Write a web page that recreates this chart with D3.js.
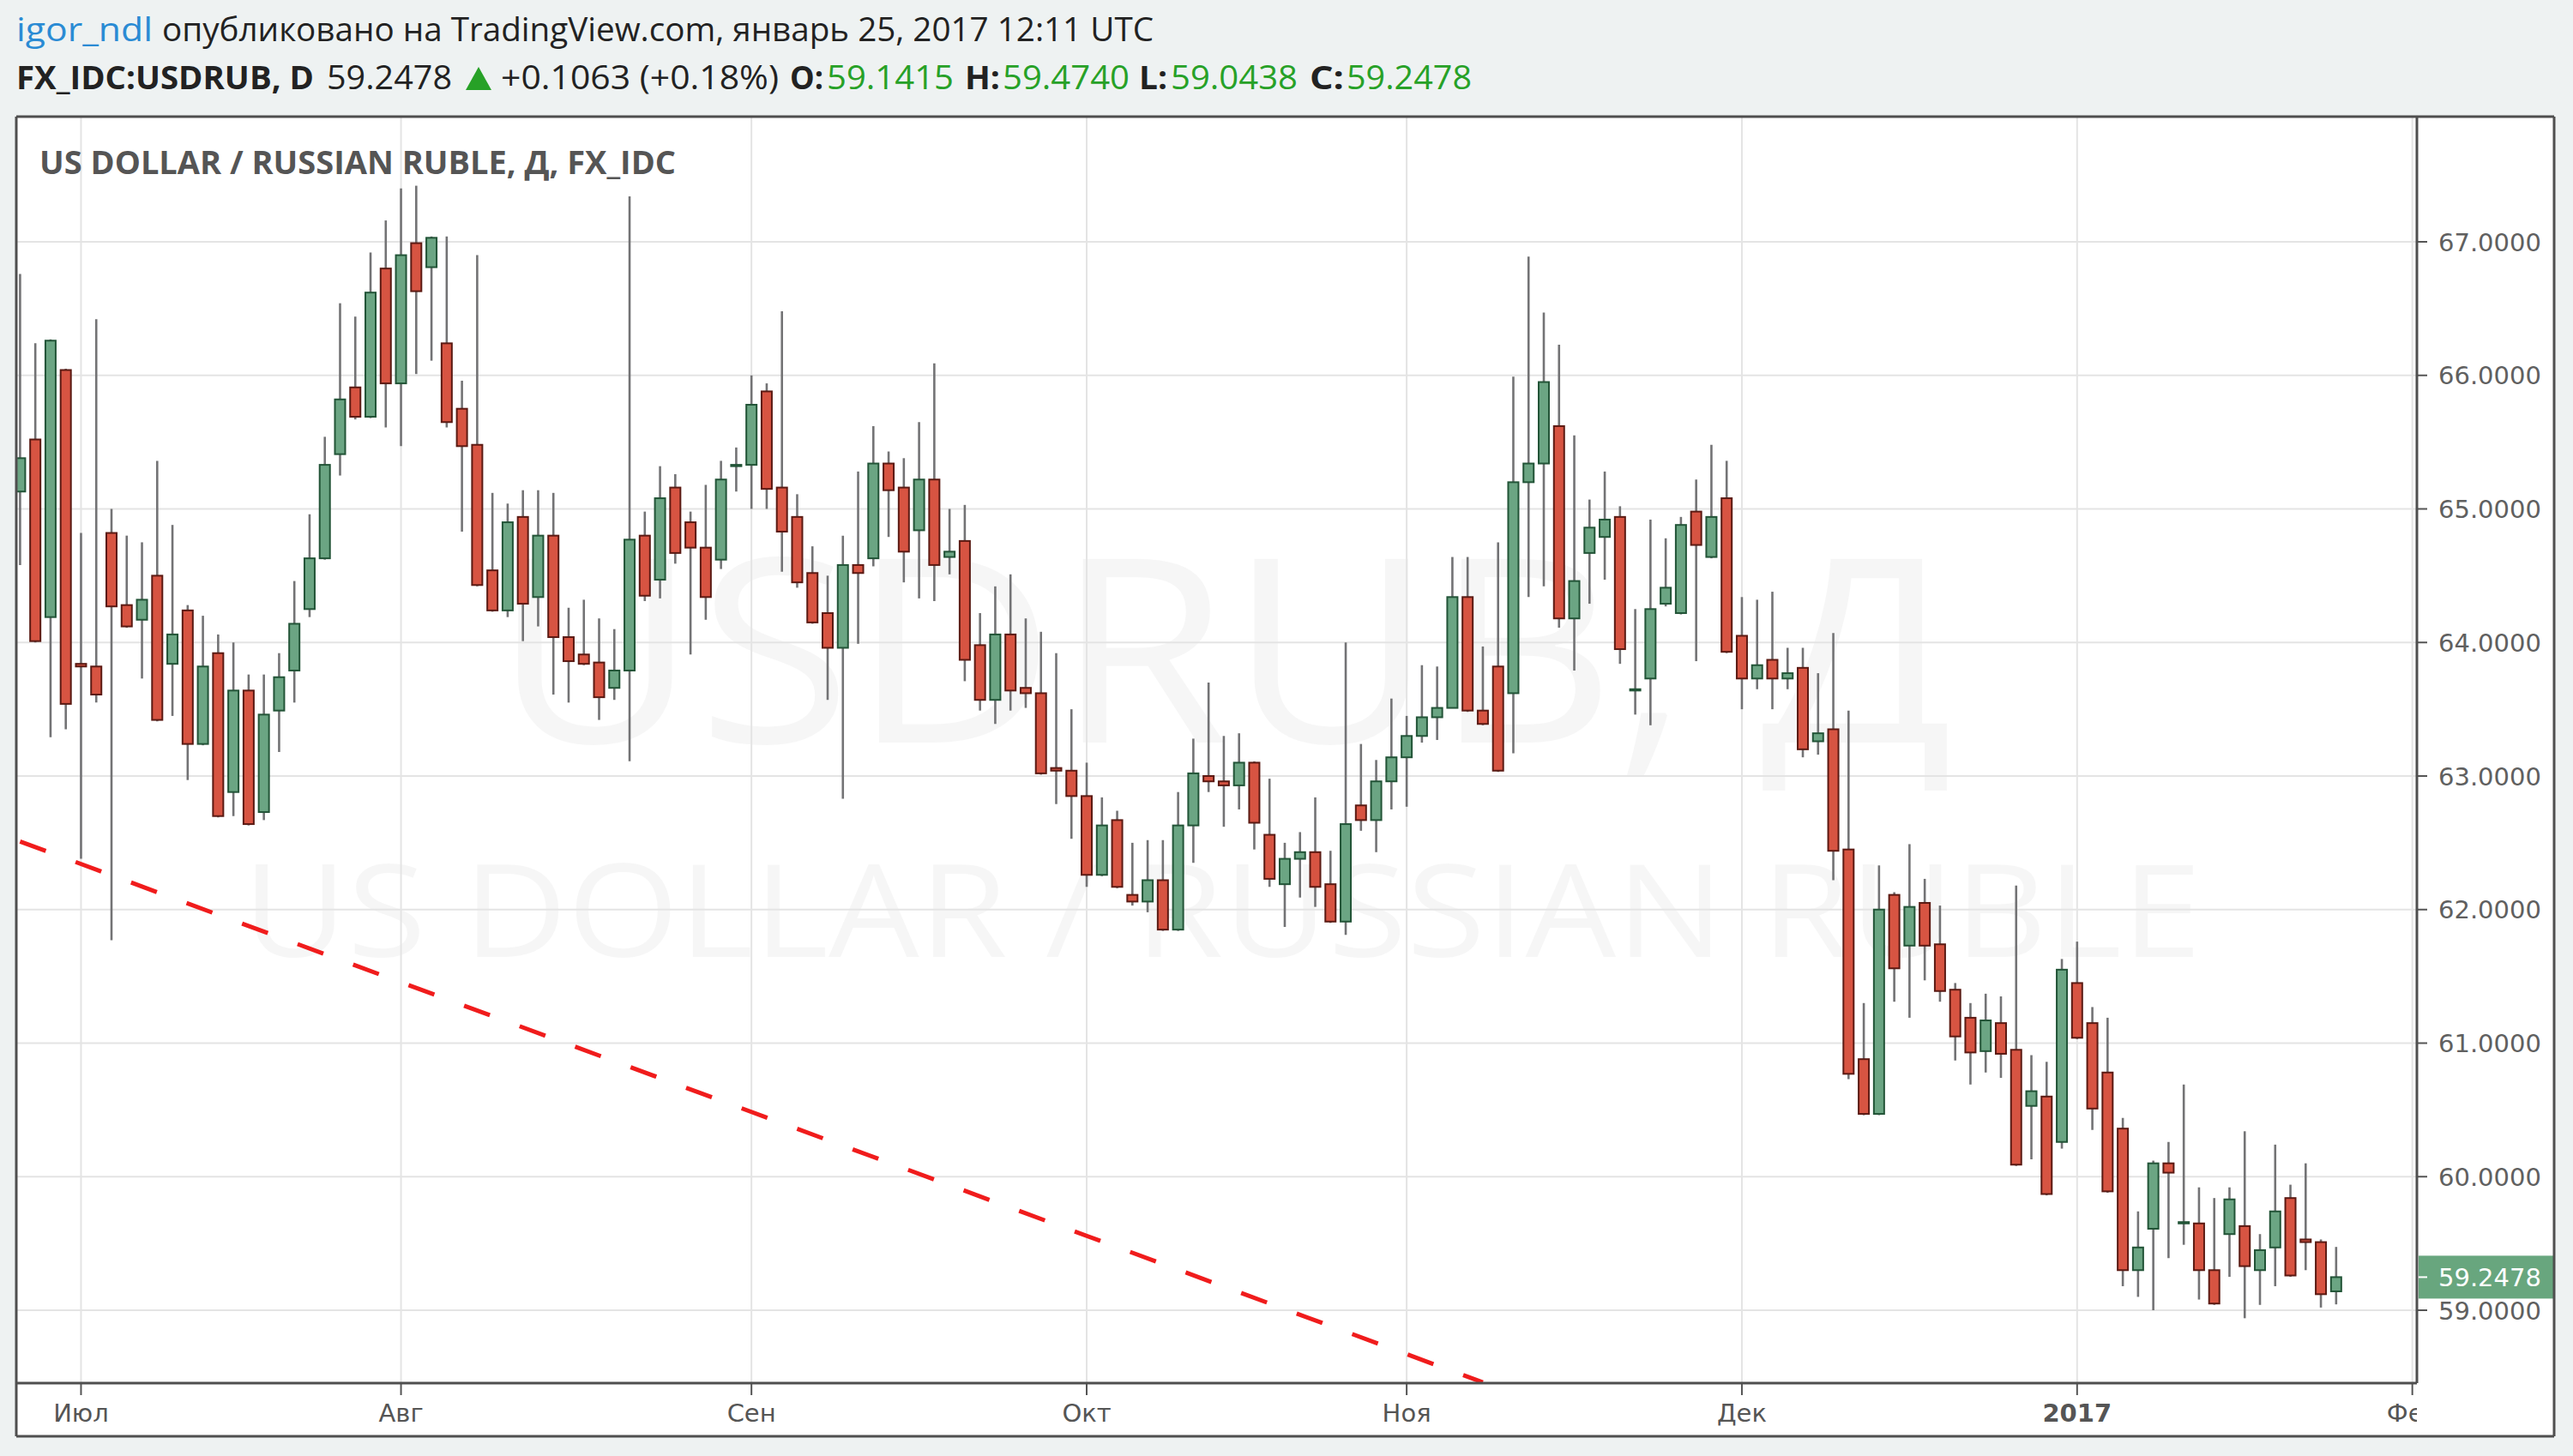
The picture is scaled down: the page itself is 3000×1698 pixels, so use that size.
<!DOCTYPE html>
<html lang="ru">
<head>
<meta charset="utf-8">
<title>USDRUB, D</title>
<script src="https://cdn.jsdelivr.net/npm/d3@7"></script>
<style>
  html, body { margin: 0; padding: 0; background: #eef2f2; }
  svg { display: block; }
</style>
</head>
<body>
<svg id="chart"></svg>
<script>
// Daily USD/RUB bars, Jun 27 2016 .. Jan 25 2017, one value per trading day
const opens = [
  65.13, 65.52, 64.19, 66.04,                                                   // Jun
  63.84, 63.82, 64.82, 64.28, 64.17, 64.50, 63.84, 64.24, 63.24, 63.92,        // Jul
  62.88, 63.64, 62.73, 63.49, 63.79, 64.25, 64.63, 65.41, 65.91, 65.69, 66.80,
  65.94, 66.99, 66.81, 66.24, 65.75, 65.48, 64.54, 64.24, 64.94, 64.34, 64.80, // Aug
  64.04, 63.91, 63.85, 63.66, 63.79, 64.80, 64.47, 65.16, 64.90, 64.71, 64.62, 65.32,
  65.33, 65.88, 65.16, 64.94, 64.52, 64.22, 63.96, 64.58, 64.63, 65.34, 65.16, // Sep
  64.84, 65.22, 64.64, 64.76, 63.98, 63.57, 64.06, 63.66, 63.62, 63.06, 63.04,
  62.85, 62.26, 62.67, 62.11, 62.06, 62.22, 61.85, 62.63, 63.00, 62.96, 62.93, // Oct
  63.10, 62.56, 62.19, 62.38, 62.43, 62.19, 61.91, 62.78, 62.67, 62.96,
  63.14, 63.30, 63.44, 63.51, 64.34, 63.49, 63.82, 63.62, 65.20, 65.34, 65.62, // Nov
  64.18, 64.67, 64.79, 64.94, 63.64, 63.73, 64.29, 64.22, 64.98, 64.64, 65.08,
  64.05, 63.73, 63.87, 63.73, 63.81, 63.26, 63.35, 62.45, 60.88, 60.47, 62.11, // Dec
  61.73, 62.05, 61.74, 61.40, 61.19, 60.94, 61.15, 60.95, 60.53, 60.60, 60.26,
  61.45, 61.15, 60.78, 60.36, 59.30, 59.61, 60.10, 59.65, 59.65, 59.30, 59.57, // Jan
  59.63, 59.30, 59.47, 59.84, 59.53, 59.51, 59.1415
];
const highs = [
  66.76, 66.24, 66.27, 66.05,
  64.82, 66.42, 65.00, 64.80, 64.75, 65.36, 64.88, 64.28, 64.20, 64.06,
  64.00, 63.76, 63.76, 63.92, 64.46, 64.96, 65.54, 66.54, 66.44, 66.92, 67.16,
  67.40, 67.42, 67.04, 67.04, 65.96, 66.90, 65.12, 65.04, 65.14, 65.14, 65.12,
  64.26, 64.32, 64.18, 64.10, 67.34, 64.98, 65.32, 65.26, 64.98, 65.18, 65.36, 65.46,
  66.00, 65.94, 66.48, 65.11, 64.72, 64.50, 64.80, 65.28, 65.62, 65.43, 65.38,
  65.65, 66.09, 65.00, 65.03, 64.22, 64.42, 64.51, 64.18, 64.08, 63.92, 63.50,
  63.10, 62.84, 62.74, 62.50, 62.52, 62.52, 62.88, 63.28, 63.70, 63.30, 63.32,
  63.11, 62.98, 62.50, 62.58, 62.84, 62.44, 64.00, 63.24, 63.12, 63.58,
  63.45, 63.83, 63.82, 64.64, 64.64, 63.97, 64.75, 65.99, 66.89, 66.47, 66.23,
  65.55, 65.07, 65.28, 65.02, 64.25, 64.92, 64.78, 64.94, 65.22, 65.48, 65.36,
  64.34, 64.32, 64.38, 63.96, 63.96, 63.77, 64.07, 63.49, 61.30, 62.33, 62.13,
  62.49, 62.23, 62.03, 61.45, 61.30, 61.37, 61.35, 62.18, 60.91, 60.86, 61.63,
  61.76, 61.27, 61.19, 60.44, 59.74, 60.12, 60.26, 60.69, 59.92, 59.84, 59.92,
  60.34, 59.57, 60.24, 59.94, 60.10, 59.53, 59.4740
];
const lows = [
  64.58, 64.00, 63.29, 63.35,
  62.38, 63.55, 61.77, 64.11, 63.73, 63.41, 63.45, 62.97, 63.23, 62.69,
  62.70, 62.63, 62.67, 63.18, 63.55, 64.19, 64.62, 65.25, 65.67, 65.68, 65.61,
  65.47, 66.01, 66.11, 65.61, 64.83, 64.42, 64.23, 64.19, 64.01, 64.12, 63.61,
  63.55, 63.83, 63.42, 63.57, 63.11, 64.31, 64.33, 64.59, 63.91, 64.17, 64.55, 65.13,
  65.00, 65.00, 64.53, 64.41, 64.14, 63.57, 62.83, 63.99, 64.57, 64.79, 64.45,
  64.33, 64.31, 64.51, 63.71, 63.49, 63.39, 63.49, 63.51, 63.01, 62.79, 62.53,
  62.17, 62.25, 62.16, 62.03, 61.98, 61.84, 61.84, 62.35, 62.88, 62.62, 62.75,
  62.45, 62.17, 61.87, 62.09, 62.02, 61.90, 61.81, 62.59, 62.43, 62.75,
  62.77, 63.25, 63.27, 63.51, 63.48, 63.38, 63.03, 63.17, 64.34, 64.42, 64.11,
  63.79, 64.29, 64.47, 63.84, 63.46, 63.38, 64.27, 64.21, 63.86, 64.63, 63.92,
  63.50, 63.65, 63.50, 63.65, 63.14, 63.16, 62.22, 60.73, 60.46, 60.46, 61.31,
  61.19, 61.47, 61.31, 60.87, 60.69, 60.78, 60.74, 60.08, 60.13, 59.86, 60.21,
  61.03, 60.35, 59.88, 59.18, 59.10, 59.00, 59.39, 59.49, 59.08, 59.04, 59.25,
  58.94, 59.04, 59.18, 59.25, 59.30, 59.02, 59.0438
];
const closes = [
  65.38, 64.01, 66.26, 63.54,
  63.82, 63.61, 64.27, 64.12, 64.32, 63.42, 64.06, 63.24, 63.82, 62.70,
  63.64, 62.64, 63.46, 63.74, 64.14, 64.63, 65.33, 65.82, 65.69, 66.62, 65.94,
  66.90, 66.63, 67.03, 65.65, 65.47, 64.43, 64.24, 64.90, 64.29, 64.80, 64.04,
  63.86, 63.84, 63.59, 63.79, 64.77, 64.35, 65.08, 64.67, 64.71, 64.34, 65.22, 65.33,
  65.78, 65.15, 64.83, 64.45, 64.15, 63.96, 64.58, 64.52, 65.34, 65.14, 64.68,
  65.22, 64.58, 64.68, 63.87, 63.57, 64.06, 63.64, 63.62, 63.02, 63.04, 62.85,
  62.26, 62.63, 62.17, 62.06, 62.22, 61.85, 62.63, 63.02, 62.96, 62.93, 63.10,
  62.65, 62.23, 62.38, 62.43, 62.17, 61.91, 62.64, 62.67, 62.96, 63.14,
  63.30, 63.44, 63.51, 64.34, 63.49, 63.39, 63.04, 65.20, 65.34, 65.95, 64.18,
  64.46, 64.86, 64.92, 63.95, 63.65, 64.25, 64.41, 64.88, 64.73, 64.94, 63.93,
  63.73, 63.83, 63.73, 63.77, 63.20, 63.32, 62.44, 60.77, 60.47, 62.00, 61.56,
  62.02, 61.73, 61.39, 61.05, 60.93, 61.17, 60.92, 60.09, 60.64, 59.87, 61.55,
  61.04, 60.51, 59.89, 59.30, 59.47, 60.10, 60.03, 59.66, 59.30, 59.05, 59.83,
  59.33, 59.45, 59.74, 59.26, 59.51, 59.12, 59.2478
];

const priceTicks = [59, 60, 61, 62, 63, 64, 65, 66, 67];
const monthLabels = ['Июл', 'Авг', 'Сен', 'Окт', 'Ноя', 'Дек', '2017', 'Фев'];
const lastChange = 0.1063;
const lastChangePct = 0.18;
// user-drawn dashed trend line (date, price)
const trendDates = ['2016-06-27', '2016-11-08'];
const trendPrices = [62.51, 58.46];

// Layout
const W = 3000, H = 1698;
const plot = { left: 19, right: 2818, top: 136, bottom: 1613 };
const frame = { left: 19, right: 2978, top: 136, bottom: 1675 };
const upFill = '#6ba583', upLine = '#225437';
const downFill = '#d75442', downLine = '#5b1a13';
const wickColor = '#737375';

// trading days incl. a few future ones so the "Фев" tick exists
const days = d3.timeDay.range(new Date(2016, 5, 27), new Date(2017, 1, 4))
  .filter(d => d.getDay() % 6 !== 0);
const fmtDay = d3.timeFormat('%Y-%m-%d');
const dayIndex = new Map(days.map((d, i) => [fmtDay(d), i]));

const bars = opens.map((o, i) => ({
  k: i, open: o, high: highs[i], low: lows[i], close: closes[i]
}));

// Scales
const step = 17.766;
const x = d3.scaleLinear().domain([0, 157]).range([23.4, 23.4 + 157 * step]);
const y = d3.scaleLinear().domain([59, 67]).range([1528, 282]);

const svg = d3.select('#chart').attr('width', W).attr('height', H);

svg.append('rect').attr('width', W).attr('height', H).attr('fill', '#eef2f2');
svg.append('rect')
  .attr('x', frame.left).attr('y', frame.top)
  .attr('width', frame.right - frame.left).attr('height', frame.bottom - frame.top)
  .attr('fill', '#ffffff');

const defs = svg.append('defs');
defs.append('clipPath').attr('id', 'plotClip')
  .append('rect')
  .attr('x', plot.left).attr('y', plot.top)
  .attr('width', plot.right - plot.left).attr('height', plot.bottom - plot.top);
defs.append('clipPath').attr('id', 'timeClip')
  .append('rect')
  .attr('x', plot.left).attr('y', plot.bottom)
  .attr('width', plot.right - plot.left).attr('height', frame.bottom - plot.bottom);

const pane = svg.append('g').attr('clip-path', 'url(#plotClip)');

// Watermark
const wm = pane.append('g')
  .attr('fill', '#000').attr('fill-opacity', 0.035)
  .attr('font-family', '"Open Sans", sans-serif').attr('text-anchor', 'middle');
wm.append('text')
  .attr('x', 1426).attr('y', 866)
  .attr('font-size', 300)
  .attr('textLength', 1703).attr('lengthAdjust', 'spacingAndGlyphs')
  .text('USDRUB, Д');
wm.append('text')
  .attr('x', 1425).attr('y', 1116)
  .attr('font-size', 150)
  .attr('textLength', 2284).attr('lengthAdjust', 'spacingAndGlyphs')
  .text('US DOLLAR / RUSSIAN RUBLE');

// Month ticks = first trading day of each month
const monthTicks = days.map((d, i) => i)
  .filter(i => i > 0 && days[i].getMonth() !== days[i - 1].getMonth());

// Grid
const grid = pane.append('g').attr('stroke', '#e4e4e4').attr('stroke-width', 2);
grid.selectAll('.hg').data(priceTicks).enter().append('line')
  .attr('x1', plot.left).attr('x2', plot.right)
  .attr('y1', d => y(d)).attr('y2', d => y(d));
grid.selectAll('.vg').data(monthTicks).enter().append('line')
  .attr('x1', d => x(d)).attr('x2', d => x(d))
  .attr('y1', plot.top).attr('y2', plot.bottom);

// Candles
const isUp = d => d.close >= d.open;
pane.append('g').selectAll('line').data(bars).enter().append('line')
  .attr('x1', d => x(d.k)).attr('x2', d => x(d.k))
  .attr('y1', d => y(d.high)).attr('y2', d => y(d.low))
  .attr('stroke', wickColor).attr('stroke-width', 2.6);

const bodyW = 12;
pane.append('g').selectAll('rect').data(bars).enter().append('rect')
  .attr('x', d => x(d.k) - bodyW / 2)
  .attr('y', d => y(Math.max(d.open, d.close)))
  .attr('width', bodyW)
  .attr('height', d => Math.max(1, Math.abs(y(d.open) - y(d.close))))
  .attr('fill', d => isUp(d) ? upFill : downFill)
  .attr('stroke', d => isUp(d) ? upLine : downLine)
  .attr('stroke-width', 2);

// Dashed trend line
const trend = trendDates.map((d, i) => [x(dayIndex.get(d)), y(trendPrices[i])]);
pane.append('path')
  .attr('d', d3.line()(trend))
  .attr('fill', 'none')
  .attr('stroke', '#f01c1c').attr('stroke-width', 5)
  .attr('stroke-dasharray', '32,37');

// Pane title
svg.append('text')
  .attr('x', 46).attr('y', 203)
  .attr('font-family', '"Open Sans", sans-serif').attr('font-weight', 700)
  .attr('font-size', 38).attr('fill', '#555555')
  .attr('textLength', 742).attr('lengthAdjust', 'spacingAndGlyphs')
  .text('US DOLLAR / RUSSIAN RUBLE, Д, FX_IDC');

// Price axis
const axisFont = '"DejaVu Sans", sans-serif';
const fmt4 = d3.format('.4f');
const pAxis = svg.append('g');
pAxis.selectAll('line').data(priceTicks).enter().append('line')
  .attr('x1', plot.right).attr('x2', plot.right + 12)
  .attr('y1', d => y(d)).attr('y2', d => y(d))
  .attr('stroke', '#555').attr('stroke-width', 2);
pAxis.selectAll('text').data(priceTicks).enter().append('text')
  .attr('x', 2843).attr('y', d => y(d) + 10.5)
  .attr('font-family', axisFont).attr('font-size', 29).attr('fill', '#606060')
  .text(d => fmt4(d));

// Last price marker
const last = bars[bars.length - 1];
svg.append('rect')
  .attr('x', plot.right + 2).attr('y', y(last.close) - 25)
  .attr('width', frame.right - plot.right - 3).attr('height', 50)
  .attr('fill', '#68a67e');
svg.append('line')
  .attr('x1', plot.right).attr('x2', plot.right + 12)
  .attr('y1', y(last.close)).attr('y2', y(last.close))
  .attr('stroke', '#fff').attr('stroke-width', 2);
svg.append('text')
  .attr('x', 2843).attr('y', y(last.close) + 10.5)
  .attr('font-family', axisFont).attr('font-size', 29).attr('fill', '#ffffff')
  .text(fmt4(last.close));

// Time axis
const tAxis = svg.append('g');
tAxis.selectAll('line').data(monthTicks).enter().append('line')
  .attr('x1', d => x(d)).attr('x2', d => x(d))
  .attr('y1', plot.bottom).attr('y2', plot.bottom + 14)
  .attr('stroke', '#555').attr('stroke-width', 2);
tAxis.append('g').attr('clip-path', 'url(#timeClip)')
  .selectAll('text').data(monthTicks).enter().append('text')
  .attr('x', d => x(d)).attr('y', 1658)
  .attr('text-anchor', 'middle')
  .attr('font-family', axisFont).attr('font-size', 29).attr('fill', '#555555')
  .attr('font-weight', (d, i) => monthLabels[i] === '2017' ? 700 : 400)
  .text((d, i) => monthLabels[i]);

// Frame lines
const frameLines = [
  [frame.left, frame.top, frame.right, frame.top],
  [frame.left, frame.top, frame.left, frame.bottom],
  [frame.right, frame.top, frame.right, frame.bottom],
  [frame.left, frame.bottom, frame.right, frame.bottom],
  [plot.left, plot.bottom, plot.right, plot.bottom],
  [plot.right, plot.top, plot.right, plot.bottom]
];
svg.append('g').selectAll('line').data(frameLines).enter().append('line')
  .attr('x1', d => d[0]).attr('y1', d => d[1]).attr('x2', d => d[2]).attr('y2', d => d[3])
  .attr('stroke', '#4f4f4f').attr('stroke-width', 3);

// Header
const green = '#27a127';
const fmtSign = d3.format('+.4f');
const header = [
  // text, x, width, baseline, bold, color
  ['igor_ndl', 19, 159, 48, false, '#2a8bd4'],
  ['опубликовано на TradingView.com, январь 25, 2017 12:11 UTC', 189, 1156, 48, false, '#222'],
  ['FX_IDC:USDRUB, D', 19, 347, 104, true, '#222'],
  [fmt4(last.close), 381, 146, 104, false, '#222'],
  [`${fmtSign(lastChange)} (+${lastChangePct.toFixed(2)}%)`, 584, 324, 104, false, '#222'],
  ['O:', 921, 39, 104, true, '#222'],
  [fmt4(last.open), 964, 148, 104, false, green],
  ['H:', 1125, 41, 104, true, '#222'],
  [fmt4(last.high), 1169, 148, 104, false, green],
  ['L:', 1328, 33, 104, true, '#222'],
  [fmt4(last.low), 1365, 148, 104, false, green],
  ['C:', 1527, 40, 104, true, '#222'],
  [fmt4(last.close), 1570, 146, 104, false, green]
];
svg.append('g').selectAll('text').data(header).enter().append('text')
  .attr('x', d => d[1]).attr('y', d => d[3])
  .attr('font-family', '"Open Sans", sans-serif').attr('font-size', 38)
  .attr('font-weight', d => d[4] ? 700 : 400)
  .attr('fill', d => d[5])
  .attr('textLength', d => d[2]).attr('lengthAdjust', 'spacingAndGlyphs')
  .text(d => d[0]);
// up triangle
svg.append('path')
  .attr('d', 'M543,105 L558,78 L573,105 Z')
  .attr('fill', green);
</script>
</body>
</html>
